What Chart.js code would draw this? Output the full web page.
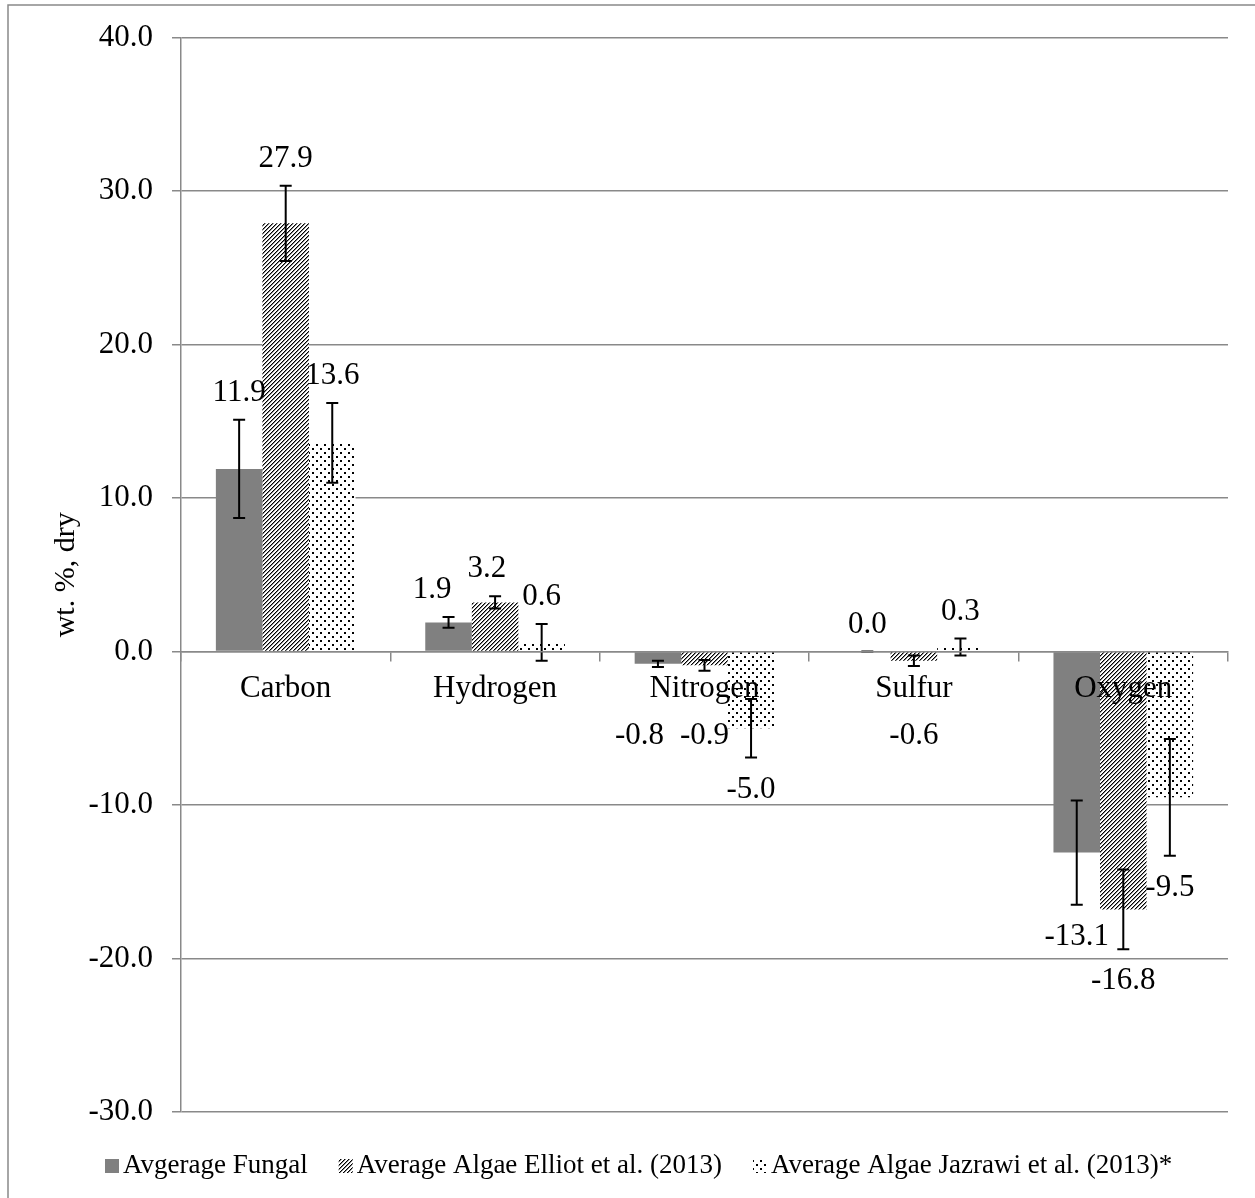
<!DOCTYPE html>
<html><head><meta charset="utf-8">
<script src="https://cdn.jsdelivr.net/npm/chart.js@4/dist/chart.umd.min.js"></script>
<style>html,body{margin:0;padding:0;background:#fff}</style>
</head><body>
<canvas id="c" width="1255" height="1198" style="display:block;width:1255px;height:1198px"></canvas>
<script>
const categories = ['Carbon', 'Hydrogen', 'Nitrogen', 'Sulfur', 'Oxygen'];
const seriesNames = ['Avgerage Fungal', 'Average Algae Elliot et al. (2013)', 'Average Algae Jazrawi et al. (2013)*'];
const fungal = [11.9, 1.9, -0.8, 0.0, -13.1];
const elliot = [27.9, 3.2, -0.9, -0.6, -16.8];
const jazrawi = [13.6, 0.6, -5.0, 0.3, -9.5];
const fungalErr = [3.2, 0.35, 0.2, 0.0, 3.4];
const elliotErr = [2.45, 0.4, 0.35, 0.35, 2.6];
const jazrawiErr = [2.6, 1.2, 1.9, 0.55, 3.8];
const yTicks = [40, 30, 20, 10, 0, -10, -20, -30];
const yTitle = 'wt. %, dry';

const FONT = 'Liberation Serif, Times New Roman, serif';
const GRID = '#898989';
const canvas = document.getElementById('c');
const mainCtx = canvas.getContext('2d');

function makeHatch() {
  const t = document.createElement('canvas'); t.width = 4; t.height = 4;
  const c = t.getContext('2d');
  c.fillStyle = '#fff'; c.fillRect(0, 0, 4, 4);
  for (let y = 0; y < 4; y++) {
    c.fillStyle = '#000'; c.fillRect((3 - y + 4) % 4, y, 1, 1);
    c.fillStyle = '#8a8a8a'; c.fillRect((4 - y + 4) % 4, y, 1, 1);
  }
  return mainCtx.createPattern(t, 'repeat');
}
function makeDots() {
  const t = document.createElement('canvas'); t.width = 8; t.height = 8;
  const c = t.getContext('2d');
  c.fillStyle = '#fff'; c.fillRect(0, 0, 8, 8);
  c.fillStyle = '#000';
  c.fillRect(0, 0, 2, 2); c.fillRect(4, 4, 2, 2);
  return mainCtx.createPattern(t, 'repeat');
}
const fills = ['#808080', makeHatch(), makeDots()];
const errs = [fungalErr, elliotErr, jazrawiErr];

const extras = {
  id: 'extras',
  beforeDraw(chart) {
    const ctx = chart.ctx;
    ctx.save();
    ctx.fillStyle = '#fff'; ctx.fillRect(0, 0, chart.width, chart.height);
    ctx.strokeStyle = GRID; ctx.lineWidth = 1.5;
    ctx.strokeRect(8, 5, chart.width + 10, chart.height + 10);
    ctx.restore();
  },
  afterDatasetsDraw(chart) {
    const ctx = chart.ctx;
    const ys = chart.scales.y;
    ctx.save();
    ctx.strokeStyle = '#000'; ctx.lineWidth = 2;
    chart.data.datasets.forEach((ds, i) => {
      const meta = chart.getDatasetMeta(i);
      meta.data.forEach((bar, j) => {
        const v = ds.data[j], e = errs[i][j];
        const yT = ys.getPixelForValue(v + e), yB = ys.getPixelForValue(v - e);
        const x = bar.x;
        ctx.beginPath();
        ctx.moveTo(x, yT); ctx.lineTo(x, yB);
        ctx.moveTo(x - 6, yT); ctx.lineTo(x + 6, yT);
        ctx.moveTo(x - 6, yB); ctx.lineTo(x + 6, yB);
        ctx.stroke();
      });
    });
    ctx.restore();
  },
  afterDraw(chart) {
    const ctx = chart.ctx;
    const ca = chart.chartArea;
    const ys = chart.scales.y;
    const zeroY = ys.getPixelForValue(0);
    // data labels, with simple overlap avoidance inside each category
    ctx.save();
    ctx.fillStyle = '#000';
    ctx.font = '31px ' + FONT;
    ctx.textAlign = 'center'; ctx.textBaseline = 'middle';
    categories.forEach((cat, j) => {
      const items = chart.data.datasets.map((ds, i) => {
        const bar = chart.getDatasetMeta(i).data[j];
        const v = ds.data[j], e = errs[i][j];
        const yT = ys.getPixelForValue(v + e), yB = ys.getPixelForValue(v - e);
        const y = v >= 0 ? yT - 27 : Math.max(yB + 32, zeroY + 84);
        const txt = v.toFixed(1);
        return { txt, x: bar.x, y, w: ctx.measureText(txt).width };
      });
      for (let k = items.length - 2; k >= 0; k--) {
        const a = items[k], b = items[k + 1];
        if (Math.abs(a.y - b.y) < 30) {
          const overlap = (a.x + a.w / 2 + 16) - (b.x - b.w / 2);
          if (overlap > 0) a.x -= overlap;
        }
      }
      items.forEach(it => ctx.fillText(it.txt, it.x, it.y));
    });
    ctx.restore();
    // y-axis title
    ctx.save();
    ctx.fillStyle = '#000';
    ctx.font = '30px ' + FONT;
    ctx.translate(66, (ca.top + ca.bottom) / 2);
    ctx.rotate(-Math.PI / 2);
    ctx.textAlign = 'center'; ctx.textBaseline = 'middle';
    ctx.fillText(yTitle, 0, 0);
    ctx.restore();
    // legend
    ctx.save();
    ctx.font = '27px ' + FONT;
    ctx.textBaseline = 'middle'; ctx.textAlign = 'left';
    const box = 14, gapBT = 4, gapItem = 31, cy = 1166;
    let x = 105;
    seriesNames.forEach((name, i) => {
      ctx.fillStyle = fills[i];
      ctx.fillRect(x, cy - box / 2, box, box);
      x += box + gapBT;
      ctx.fillStyle = '#000';
      ctx.fillText(name, x, cy);
      x += ctx.measureText(name).width + gapItem;
    });
    ctx.restore();
  }
};

new Chart(canvas, {
  type: 'bar',
  data: {
    labels: categories,
    datasets: [fungal, elliot, jazrawi].map((d, i) => ({
      label: seriesNames[i],
      data: d,
      backgroundColor: fills[i],
      borderWidth: 0,
      categoryPercentage: 0.667,
      barPercentage: 1.0
    }))
  },
  options: {
    responsive: false,
    animation: false,
    devicePixelRatio: 1,
    layout: { padding: { left: 0, right: 27, top: 36, bottom: 86 } },
    plugins: { legend: { display: false }, tooltip: { enabled: false }, title: { display: false } },
    scales: {
      x: {
        type: 'category',
        position: { y: 0 },
        offset: true,
        grid: { display: true, drawOnChartArea: false, drawTicks: true, tickLength: 9, color: GRID, lineWidth: 1.5, offset: true, z: 1 },
        border: { display: true, color: GRID, width: 1.5, z: 1 },
        ticks: { z: 2, color: '#000', font: { family: FONT, size: 31 }, padding: 10, maxRotation: 0, autoSkip: false }
      },
      y: {
        min: -30, max: 40,
        afterBuildTicks: s => { s.ticks = yTicks.map(v => ({ value: v })); },
        afterFit: s => { s.width = 181; },
        grid: { color: GRID, lineWidth: 1.5, tickLength: 9, drawTicks: true },
        border: { display: true, color: GRID, width: 1.5 },
        ticks: { color: '#000', font: { family: FONT, size: 31 }, padding: 19, callback: v => Number(v).toFixed(1) }
      }
    }
  },
  plugins: [extras]
});
</script>
</body></html>
